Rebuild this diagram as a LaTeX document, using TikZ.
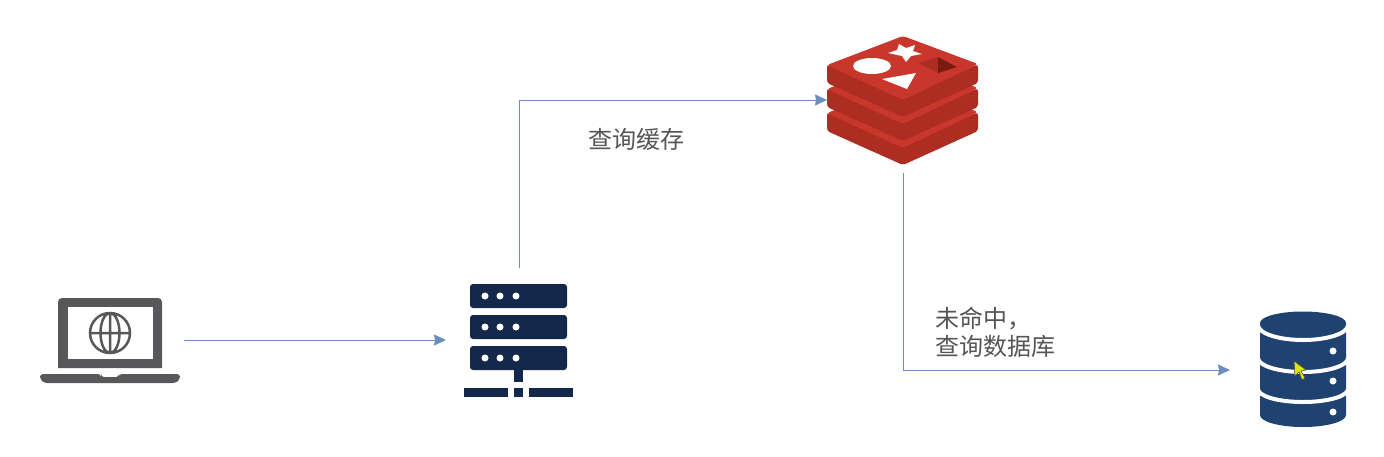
\documentclass[tikz,border=0pt]{standalone}
\usepackage{fontspec}
\setmainfont{Noto Sans CJK SC}
\usetikzlibrary{arrows.meta}

\definecolor{flowblue}{HTML}{6C8EBF}
\definecolor{labelgray}{HTML}{555555}
\definecolor{laptopgray}{HTML}{58585A}
\definecolor{servernavy}{HTML}{14284B}
\definecolor{dbblue}{HTML}{1F4270}
\definecolor{redistop}{HTML}{C9372C}
\definecolor{redisside}{HTML}{AD2D22}
\definecolor{redisdark}{HTML}{7A1B10}

\tikzset{
  iconbox/.style={minimum width=#1, inner sep=0pt, outer sep=0pt},
  flow/.style={draw=flowblue, line width=1pt, -{Stealth[length=12pt,width=11pt,inset=1pt]}},
  steplabel/.style={text=labelgray, font=\fontsize{24}{28}\selectfont, inner sep=0pt, align=left, anchor=west},
  serverbar/.style={fill=servernavy, rounded corners=3pt},
}

\begin{document}
\begin{tikzpicture}[x=1pt, y=-1pt]
  \useasboundingbox (0,0) rectangle (1384,456);

  % anchors for the connectors
  \node [iconbox=148pt, minimum height=144pt] (laptop) at (110,340) {};
  \node [iconbox=146pt, minimum height=144pt] (server) at (519,340) {};
  \node [iconbox=152pt, minimum height=146pt] (redis) at (903,100) {};
  \node [iconbox=146pt, minimum height=144pt] (database) at (1303,370) {};

  % laptop
  \fill [laptopgray] (58,368) -- (58,302) arc [start angle=180, end angle=90, radius=4pt]
    -- (158,298) arc [start angle=90, end angle=0, radius=4pt] -- (162,368) -- cycle;
  \fill [white] (68,307) rectangle (153,359);
  \draw [laptopgray, line width=2.5pt] (110,333) circle [radius=20pt]
    (110,333) ellipse [x radius=9.5pt, y radius=20pt]
    (90,333) -- (130,333) (110,313) -- (110,353);
  \fill [laptopgray, rounded corners=3pt] (40,374) -- (101,374) -- (101,377) -- (119,377) -- (119,374)
    -- (180,374) -- (180,379) -- (176,383) -- (44,383) -- (40,379) -- cycle;

  % server
  \foreach \bartop in {284,315,346} {
    \fill [serverbar] (470,\bartop) rectangle (567,\bartop+24);
    \foreach \dotx in {485,500,516}
      \fill [white] (\dotx,\bartop+12) circle [radius=3.5pt];
  }
  \fill [servernavy] (514,368) rectangle (523,382);
  \fill [servernavy] (464,388) rectangle (508,397);
  \fill [servernavy] (514,388) rectangle (523,397);
  \fill [servernavy] (529,388) rectangle (573,397);

  % redis
  \foreach \layer in {48,24,0} {
    \begin{scope}[yshift=-\layer pt]
      \fill [redisside, rounded corners=3pt] (827,64) -- (903,99) -- (978,64) -- (978,83) -- (903,117) -- (827,83) -- cycle;
      \fill [redistop, rounded corners=3pt] (827,65) -- (903,36) -- (978,64) -- (903,100) -- cycle;
    \end{scope}
  }
  \fill [white] (872,66) ellipse [x radius=19pt, y radius=8pt];
  \fill [white] (899,44) -- (906,48) -- (915,45) -- (913,51) -- (922,54) -- (911,56) -- (906,62) -- (902,56) -- (888,53) -- (897,50) -- cycle;
  \fill [white] (882,79) -- (916,73) -- (907,89) -- cycle;
  \fill [redisside] (918,63) -- (938,57) -- (938,73) -- cycle;
  \fill [redisdark] (938,57) -- (957,67) -- (938,73) -- cycle;

  % database
  \fill [dbblue] (1260,323) -- (1260,415) arc [start angle=180, end angle=360, x radius=43pt, y radius=12pt]
    -- (1346,323) arc [start angle=0, end angle=180, x radius=43pt, y radius=11.5pt] -- cycle;
  \foreach \gaptop/\gapdrop in {325/15,358/14,389/13} {
    \draw [white, line width=4pt] (1258,\gaptop) arc [start angle=180, end angle=360, x radius=45pt, y radius=\gapdrop pt];
  }
  \foreach \doty in {351,381,412}
    \fill [white] (1333,\doty) circle [radius=3.5pt];
  \filldraw [draw=black!70, fill=yellow!85!green, line width=0.6pt] (1294,361) -- (1295,376) -- (1299,372) -- (1302,380)
    -- (1305,378) -- (1301,371) -- (1306,370) -- cycle;

  % connectors
  \draw [flow] (laptop.east) -- (server.west);
  \draw [flow] (server.north) |- (redis.west);
  \draw [flow] (redis.south) |- (database.west);

  % labels
  \node [steplabel] (cachelabel) at (588,139) {查询缓存};
  \node [steplabel] (misslabel) at (935,332) {未命中，\\查询数据库};
\end{tikzpicture}
\end{document}
